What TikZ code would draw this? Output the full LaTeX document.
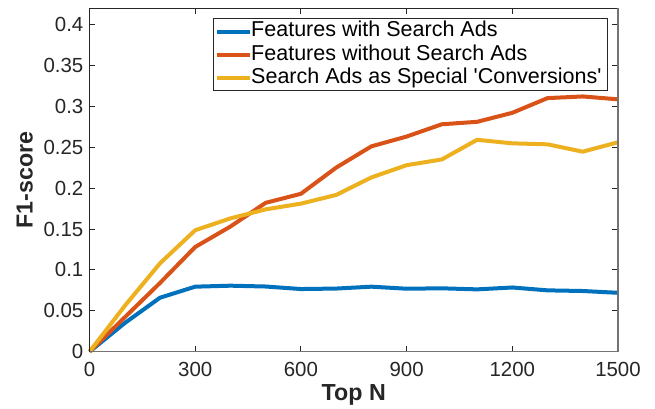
\documentclass[tikz,border=0pt]{standalone}
\usepackage{fontspec}
\setmainfont{Liberation Sans}
\definecolor{mblue}{rgb}{0,0.447,0.741}
\definecolor{morange}{rgb}{0.85,0.325,0.098}
\definecolor{myellow}{rgb}{0.929,0.694,0.125}
\definecolor{axdark}{gray}{0.15}
\definecolor{axgray}{gray}{0.45}
\tikzset{
  dataline/.style={line width=4bp, line join=round},
  ticklab/.style={inner sep=0pt, text=axdark, font=\fontsize{20.5}{24}\selectfont},
  axlab/.style={inner sep=0pt, text=axdark, font=\fontsize{23.3}{26}\selectfont\bfseries},
  leglab/.style={inner sep=0pt, anchor=base west, text=black, font=\fontsize{21.6}{24}\selectfont},
  tickmark/.style={draw=axdark, line width=0.8bp},
}
\begin{document}
\begin{tikzpicture}[x=1bp,y=-1bp]
\useasboundingbox (0,0) rectangle (655,408);
\fill[white] (0,0) rectangle (655,408);
% data
\begin{scope}[shift={(89.5bp,-351.7bp)}, x=0.35233bp, y=818.1bp]
\draw[dataline, mblue] (0,0)--(100,0.035)--(200,0.066)--(300,0.0795)--(400,0.0807)--(500,0.0797)--(600,0.0766)--(700,0.0772)--(800,0.0795)--(900,0.077)--(1000,0.0775)--(1100,0.0762)--(1200,0.0785)--(1300,0.075)--(1400,0.0742)--(1500,0.072);
\draw[dataline, morange] (0,0)--(100,0.042)--(200,0.084)--(300,0.128)--(400,0.153)--(500,0.182)--(600,0.193)--(700,0.225)--(800,0.251)--(900,0.263)--(1000,0.278)--(1100,0.281)--(1200,0.292)--(1300,0.310)--(1400,0.312)--(1500,0.3085);
\draw[dataline, myellow] (0,0)--(100,0.056)--(200,0.108)--(300,0.1485)--(400,0.163)--(500,0.174)--(600,0.181)--(700,0.1916)--(800,0.213)--(900,0.228)--(1000,0.235)--(1100,0.259)--(1200,0.2547)--(1300,0.2535)--(1400,0.2445)--(1500,0.256);
% ticks
\foreach \t in {0,300,...,1500}{
  \draw[tickmark] (\t,0) -- ++(0,5.5bp);
  \draw[tickmark] (\t,0.42) -- ++(0,-5.5bp);
  \node[ticklab, anchor=north] (xl\t) at ([yshift=-10bp]\t,0) {\t};
}
\foreach \v/\lab in {0/0,0.05/0.05,0.1/0.1,0.15/0.15,0.2/0.2,0.25/0.25,0.3/0.3,0.35/0.35,0.4/0.4}{
  \draw[tickmark] (0,\v) -- ++(5.5bp,0);
  \draw[tickmark] (1500,\v) -- ++(-5.5bp,0);
  \node[ticklab, anchor=east] at ([xshift=-6bp]0,\v) {\lab};
}
\end{scope}
% axes box
\draw[axdark, line width=1bp] (89.5,351.7) -- (89.5,8) -- (618,8);
\draw[axgray, line width=1.2bp] (618,8) -- (618,351.7) -- (89.5,351.7);
% axis labels
\node[axlab, anchor=base] (xlabel) at (353.75,400) {Top N};
\node[axlab, anchor=base, rotate=90] (ylabel) at (32.5,180) {F1-score};
% legend
\draw[axdark, line width=0.8bp, fill=white] (213.3,18.3) rectangle (607.7,90.7);
\coordinate (l1a) at (217,31.7); \coordinate (l1b) at (250,31.7);
\coordinate (l2a) at (217,54.7); \coordinate (l2b) at (250,54.7);
\coordinate (l3a) at (217,78.0); \coordinate (l3b) at (250,78.0);
\draw[line width=4bp, mblue] (l1a) -- (l1b);
\draw[line width=4bp, morange] (l2a) -- (l2b);
\draw[line width=4bp, myellow] (l3a) -- (l3b);
\node[leglab] (t1) at (251,36.7) {Features with Search Ads};
\node[leglab] (t2) at (251,60.0) {Features without Search Ads};
\node[leglab] (t3) at (251,83.3) {Search Ads as Special \textquotesingle Conversions\textquotesingle};
\end{tikzpicture}
\end{document}
